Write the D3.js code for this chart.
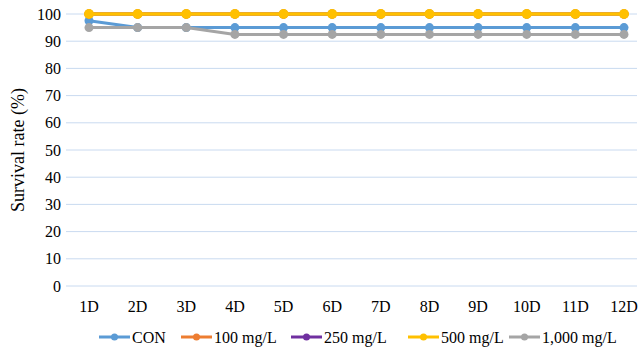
<!DOCTYPE html>
<html><head><meta charset="utf-8">
<script src="https://cdn.jsdelivr.net/npm/d3@7"></script>
<style>body{margin:0;background:#fff}svg{display:block}</style>
</head><body>
<svg id="c" width="640" height="354"></svg>
<script>
const days = ["1D","2D","3D","4D","5D","6D","7D","8D","9D","10D","11D","12D"];
const seriesNames = ["CON","100 mg/L","250 mg/L","500 mg/L","1,000 mg/L"];
const seriesColors = ["#5B9BD5","#ED7D31","#7030A0","#FFC000","#A5A5A5"];
const conVals = [97.5,95,95,95,95,95,95,95,95,95,95,95];
const v100 = [100,100,100,100,100,100,100,100,100,100,100,100];
const v250 = [100,100,100,100,100,100,100,100,100,100,100,100];
const v500 = [100,100,100,100,100,100,100,100,100,100,100,100];
const v1000 = [95,95,95,92.5,92.5,92.5,92.5,92.5,92.5,92.5,92.5,92.5];
const yTicks = [0,10,20,30,40,50,60,70,80,90,100];
const allVals = [conVals,v100,v250,v500,v1000];

const svg = d3.select("#c");
const x = d3.scalePoint().domain(days).range([89,624]);
const y = d3.scaleLinear().domain([0,100]).range([286,14]);

svg.append("g").selectAll("line").data(yTicks).join("line")
  .attr("x1",66).attr("x2",637)
  .attr("y1",d=>y(d)).attr("y2",d=>y(d))
  .attr("stroke","#C9DAF0").attr("stroke-width",1);

svg.append("g").selectAll("text").data(yTicks).join("text")
  .attr("x",61).attr("y",d=>y(d)).attr("dy","0.35em")
  .attr("text-anchor","end").attr("font-size",16).text(d=>d);

svg.append("g").selectAll("text").data(days).join("text")
  .attr("x",d=>x(d)).attr("y",306).attr("dy","0.35em")
  .attr("text-anchor","middle").attr("font-size",16).text(d=>d);

svg.append("text").attr("transform","translate(18,150) rotate(-90)")
  .attr("text-anchor","middle").attr("dy","0.35em").attr("font-size",18)
  .text("Survival rate (%)");

const line = d3.line().x((d,i)=>x(days[i])).y(d=>y(d));
allVals.forEach((vals,k)=>{
  const g = svg.append("g");
  const w = (k===3) ? 3.6 : 3;
  g.append("path").datum(vals).attr("d",line).attr("fill","none")
    .attr("stroke",seriesColors[k]).attr("stroke-width",w).attr("stroke-linejoin","round");
  g.selectAll("circle").data(vals).join("circle")
    .attr("cx",(d,i)=>x(days[i])).attr("cy",d=>y(d)).attr("r",k===3?5:4.5)
    .attr("fill",seriesColors[k]);
});

const legX = [99,181,291,408,509];
const lg = svg.append("g");
seriesNames.forEach((n,k)=>{
  const x0 = legX[k];
  lg.append("line").attr("x1",x0).attr("x2",x0+31).attr("y1",337).attr("y2",337)
    .attr("stroke",seriesColors[k]).attr("stroke-width",3);
  lg.append("circle").attr("cx",x0+15.5).attr("cy",337).attr("r",3.5).attr("fill",seriesColors[k]);
  lg.append("text").attr("x",x0+33).attr("y",337).attr("dy","0.35em")
    .attr("font-size",16).text(n);
});
document.querySelectorAll("#c text").forEach(t=>{
  t.setAttribute("style","font-family:'Liberation Serif'");
  t.setAttribute("font-family","Liberation Serif");
});
</script></body></html>
